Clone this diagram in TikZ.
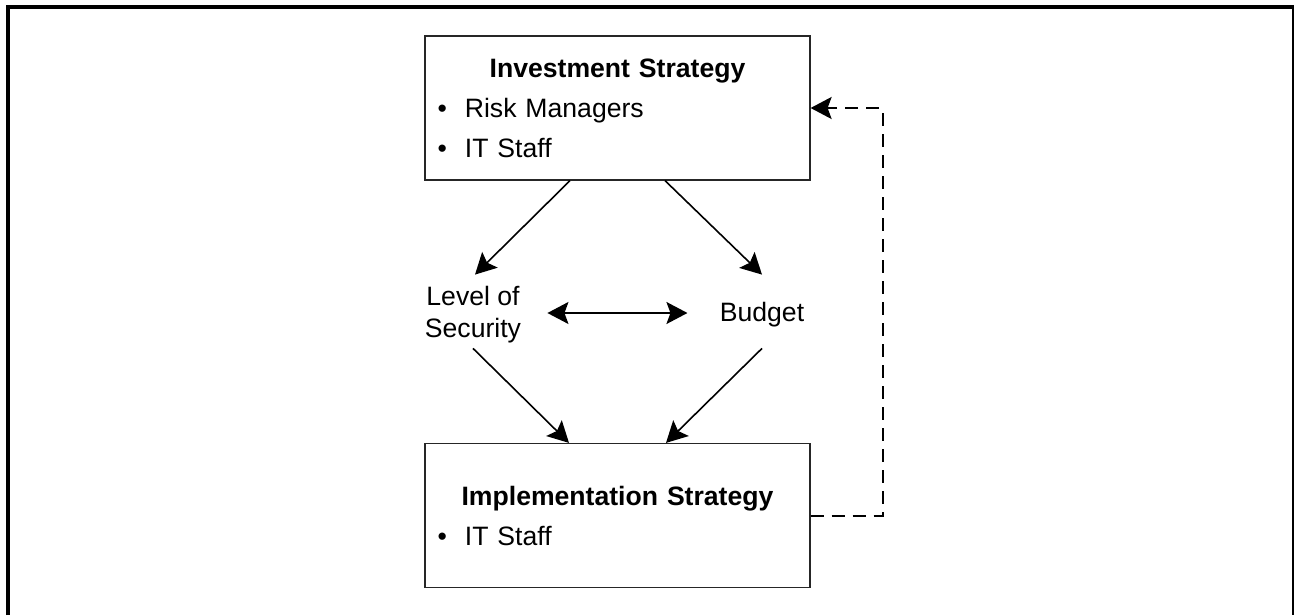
\documentclass[tikz,border=0pt]{standalone}
\usepackage{fontspec}
\setmainfont{Liberation Sans}
\usetikzlibrary{arrows.meta}
\newcommand{\bul}{\makebox[13.7pt][l]{\textbullet}}
\begin{document}
\begin{tikzpicture}[x=0.5pt, y=-0.5pt, font=\fontsize{13.3}{20}\selectfont,
    box/.style={draw=black!85, line width=0.6pt, minimum width=192.5pt, minimum height=72pt,
        text width=180pt, inner xsep=6.25pt, inner ysep=0pt},
    lbl/.style={align=center, inner sep=0pt, minimum height=28.4pt, font=\fontsize{13.3}{16}\selectfont},
    arr/.style={-{Stealth[length=10.5pt,width=11pt,inset=2pt]}, line width=0.8pt},
    both/.style={{Stealth[length=10.5pt,width=11pt,inset=2pt]}-{Stealth[length=10.5pt,width=11pt,inset=2pt]}, line width=0.8pt},
    back/.style={arr, line width=1pt, dash pattern=on 6.5pt off 4pt}]
    \useasboundingbox (0,0) rectangle (1294,615);
    \draw[line width=2pt] (8,615) -- (8,7) -- (1294,7) -- (1294,615);

    \node[box] (inv) at (617.5,108) {{\centering\bfseries Investment Strategy\par}
        \bul Risk Managers\par \bul IT Staff};
    \node[box] (impl) at (617.5,515.5) {{\centering\bfseries Implementation Strategy\par}
        \bul IT Staff};
    \node[lbl] (sec) at (473,315) {Level of\\Security};
    \node[lbl] (bud) at (762,315) {Budget};

    \draw[arr] ([xshift=-23.75pt]inv.south) -- ([xshift=1pt,yshift=5.8pt]sec.north);
    \draw[arr] ([xshift=23.75pt]inv.south) -- ([yshift=5.8pt]bud.north);
    \draw[both] ([xshift=13pt,yshift=1pt]sec.east) -- ([xshift=-16pt,yshift=1pt]bud.west);
    \draw[arr] ([yshift=-2.3pt]sec.south) -- ([xshift=-24.25pt]impl.north);
    \draw[arr] ([yshift=-2.3pt]bud.south) -- ([xshift=24.25pt]impl.north);
    \draw[back] (impl.east) -- ++(72,0) |- (inv.east);
\end{tikzpicture}
\end{document}
